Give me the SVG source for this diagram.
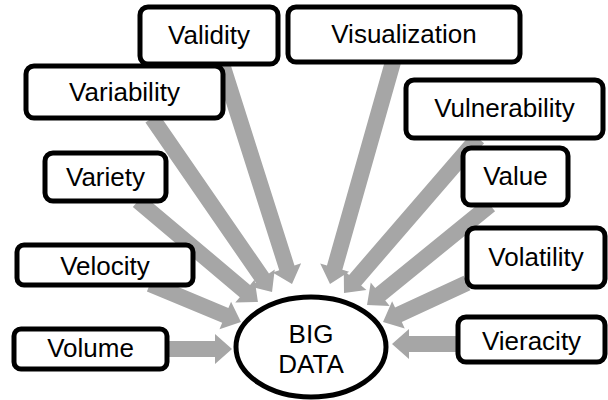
<svg xmlns="http://www.w3.org/2000/svg" width="608" height="400" viewBox="0 0 608 400">
<defs>
<style>
.box{fill:#fff;stroke:#000;stroke-width:5}
.t{font-family:"Liberation Sans",Arial,sans-serif;font-size:26px;fill:#000;text-anchor:middle}
.arr{fill:#a6a6a6}
</style>
</defs>
<rect width="608" height="400" fill="#fff"/>
<g id="connectors">
<polygon class="arr" transform="translate(167,349) rotate(0)" points="0,-8 48,-8 48,-15 65,0 48,15 48,8 0,8"/>
<polygon class="arr" transform="translate(150,284) rotate(22.7)" points="0,-8 81.6,-8 81.6,-15 98.6,0 81.6,15 81.6,8 0,8"/>
<polygon class="arr" transform="translate(138,201) rotate(40.1)" points="0,-8 139.8,-8 139.8,-15 156.8,0 139.8,15 139.8,8 0,8"/>
<polygon class="arr" transform="translate(152,118) rotate(55.4)" points="0,-8 194.4,-8 194.4,-15 211.4,0 194.4,15 194.4,8 0,8"/>
<polygon class="arr" transform="translate(222,64) rotate(72.35)" points="0,-8 213.9,-8 213.9,-15 230.9,0 213.9,15 213.9,8 0,8"/>
<polygon class="arr" transform="translate(393,62) rotate(105.84)" points="0,-8 213.8,-8 213.8,-15 230.8,0 213.8,15 213.8,8 0,8"/>
<polygon class="arr" transform="translate(478,138) rotate(130.84)" points="0,-8 187.9,-8 187.9,-15 204.9,0 187.9,15 187.9,8 0,8"/>
<polygon class="arr" transform="translate(490,205) rotate(140.89)" points="0,-8 141.5,-8 141.5,-15 158.5,0 141.5,15 141.5,8 0,8"/>
<polygon class="arr" transform="translate(467,283) rotate(155.1)" points="0,-8 75.6,-8 75.6,-15 92.6,0 75.6,15 75.6,8 0,8"/>
<polygon class="arr" transform="translate(458,344) rotate(180)" points="0,-8 49,-8 49,-15 66,0 49,15 49,8 0,8"/>
</g>
<g id="validity"><rect class="box" x="140" y="7" width="138" height="57" rx="8"/><text class="t" x="209" y="44">Validity</text></g>
<g id="visualization"><rect class="box" x="288" y="7" width="232" height="55" rx="8"/><text class="t" x="404" y="43">Visualization</text></g>
<g id="variability"><rect class="box" x="26" y="66" width="197" height="52" rx="8"/><text class="t" x="124.5" y="101">Variability</text></g>
<g id="vulnerability"><rect class="box" x="406" y="80" width="197" height="58" rx="8"/><text class="t" x="504.5" y="117">Vulnerability</text></g>
<g id="variety"><rect class="box" x="45" y="153" width="121" height="48" rx="8"/><text class="t" x="105.5" y="186">Variety</text></g>
<g id="value"><rect class="box" x="463" y="148" width="105" height="57" rx="8"/><text class="t" x="515.5" y="185">Value</text></g>
<g id="velocity"><rect class="box" x="17" y="245" width="176" height="40" rx="7"/><text class="t" x="105" y="275">Velocity</text></g>
<g id="volatility"><rect class="box" x="467" y="228" width="138" height="59" rx="8"/><text class="t" x="536" y="266">Volatility</text></g>
<g id="volume"><rect class="box" x="14" y="329" width="153" height="40" rx="7"/><text class="t" x="90.5" y="357">Volume</text></g>
<g id="vieracity"><rect class="box" x="458" y="317" width="147" height="45" rx="8"/><text class="t" x="531.5" y="350">Vieracity</text></g>
<g id="bigdata"><ellipse class="box" cx="311" cy="347" rx="75" ry="50"/><text class="t" x="311" y="343">BIG</text><text class="t" x="311" y="373">DATA</text></g>
</svg>
